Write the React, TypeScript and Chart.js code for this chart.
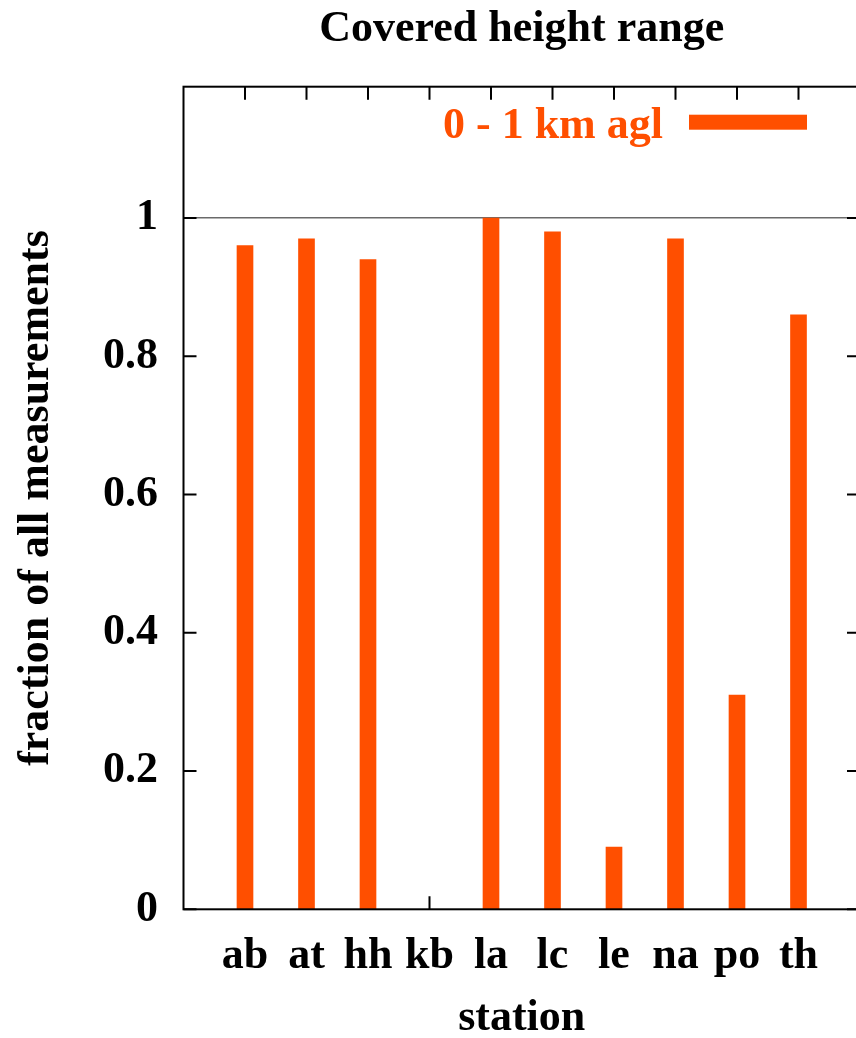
import React, { useEffect, useRef } from 'react';
import { Chart, registerables } from 'chart.js';

Chart.register(...registerables);

const stations = ['ab', 'at', 'hh', 'kb', 'la', 'lc', 'le', 'na', 'po', 'th'];
const fraction0to1km = [0.96, 0.97, 0.94, 0, 1.0, 0.98, 0.09, 0.97, 0.31, 0.86];
const yTickValues = [0, 0.2, 0.4, 0.6, 0.8, 1];
const seriesLabel = '0 - 1 km agl';
const chartTitle = 'Covered height range';
const xAxisTitle = 'station';
const yAxisTitle = 'fraction of all measurements';

const FONT = "'Liberation Serif', 'Times New Roman', serif";
const ORANGE = '#ff4f00';
const CANVAS_W = 870;
const CANVAS_H = 1050;

const framePlugin = {
  id: 'gnuFrame',
  beforeDatasetsDraw(chart: any) {
    const { ctx, chartArea: a, scales } = chart;
    const xs = scales.x;
    const ys = scales.y;
    const tl = 13;
    ctx.save();
    ctx.strokeStyle = '#000';
    ctx.lineWidth = 2;
    ctx.beginPath();
    for (let i = 0; i < stations.length; i++) {
      const px = xs.getPixelForValue(i);
      ctx.moveTo(px, a.bottom);
      ctx.lineTo(px, a.bottom - tl);
      ctx.moveTo(px, a.top);
      ctx.lineTo(px, a.top + tl);
    }
    for (const v of yTickValues) {
      const py = ys.getPixelForValue(v);
      ctx.moveTo(a.left, py);
      ctx.lineTo(a.left + tl, py);
      ctx.moveTo(a.right, py);
      ctx.lineTo(a.right - tl, py);
    }
    ctx.stroke();
    ctx.restore();
  },
  afterDatasetsDraw(chart: any) {
    const { ctx, chartArea: a } = chart;
    ctx.save();
    ctx.strokeStyle = '#000';
    ctx.lineWidth = 2;
    ctx.strokeRect(a.left, a.top, a.right - a.left, a.bottom - a.top);
    // legend (text left of sample line, gnuplot style)
    const ds = chart.data.datasets[0];
    const lineRight = a.right - 53;
    const lineLeft = lineRight - 118;
    ctx.fillStyle = ds.backgroundColor;
    ctx.fillRect(lineLeft, a.top + 28, lineRight - lineLeft, 15);
    ctx.font = `bold 44px ${FONT}`;
    ctx.textAlign = 'right';
    ctx.textBaseline = 'alphabetic';
    ctx.fillText(ds.label, lineLeft - 26, a.top + 51);
    ctx.restore();
  },
};

const boldFont = { family: FONT, size: 44, weight: 'bold' };

export default function App() {
  const ref = useRef<HTMLCanvasElement | null>(null);

  useEffect(() => {
    if (!ref.current) return;
    const chart = new Chart(ref.current, {
      type: 'bar',
      data: {
        datasets: [
          {
            label: seriesLabel,
            data: stations.map((_, i) => ({ x: i, y: fraction0to1km[i] })),
            backgroundColor: ORANGE,
            borderWidth: 0,
            barThickness: 16,
            xAxisID: 'x',
            yAxisID: 'y',
          },
        ],
      },
      plugins: [framePlugin],
      options: {
        responsive: false,
        animation: false,
        devicePixelRatio: 1,
        layout: { padding: { left: 0, right: CANVAS_W - 860, top: 0, bottom: 0 } },
        plugins: {
          legend: { display: false },
          tooltip: { enabled: false },
          title: { display: false },
        },
        scales: {
          x: {
            type: 'linear',
            position: 'bottom',
            offset: false,
            min: -1,
            max: 10,
            afterFit: (s: any) => {
              s.height = CANVAS_H - 909.3;
              s.paddingLeft = 0;
              s.paddingRight = 0;
            },
            grid: { display: false, drawTicks: false, offset: false },
            border: { display: false },
            ticks: {
              stepSize: 1,
              autoSkip: false,
              maxRotation: 0,
              includeBounds: false,
              padding: 20.5,
              color: '#000',
              font: boldFont,
              callback: (value: any) => {
                const v = Number(value);
                const i = Math.round(v);
                return Math.abs(v - i) < 1e-6 && i >= 0 && i < stations.length ? stations[i] : '';
              },
            },
            title: {
              display: true,
              text: xAxisTitle,
              color: '#000',
              font: boldFont,
              padding: { top: 0, bottom: 4.6 },
            },
          },
          // top axis only carries the chart title, centred over the plot area
          xTop: {
            type: 'linear',
            position: 'top',
            offset: false,
            min: -1,
            max: 10,
            afterFit: (s: any) => {
              s.height = 86.7;
              s.paddingLeft = 0;
              s.paddingRight = 0;
            },
            grid: { display: false, drawTicks: false },
            border: { display: false },
            ticks: { display: false },
            title: {
              display: true,
              text: chartTitle,
              color: '#000',
              font: boldFont,
              padding: { top: 3.6, bottom: 0 },
            },
          },
          y: {
            type: 'linear',
            min: 0,
            max: 1.19,
            afterFit: (s: any) => {
              s.width = 183.5;
              s.paddingTop = 0;
              s.paddingBottom = 0;
            },
            grid: {
              drawTicks: false,
              lineWidth: 1.5,
              color: (c: any) =>
                c.tick && Math.abs(c.tick.value - 1) < 1e-9 ? '#6a6a6a' : 'rgba(0,0,0,0)',
            },
            border: { display: false },
            ticks: {
              stepSize: 0.2,
              includeBounds: false,
              padding: 25.5,
              color: '#000',
              font: boldFont,
              callback: (value: any) => String(Number(Number(value).toFixed(2))),
            },
            title: {
              display: true,
              text: yAxisTitle,
              color: '#000',
              font: boldFont,
              padding: { top: 10.6, bottom: 0 },
            },
          },
        },
      },
    } as any);
    return () => chart.destroy();
  }, []);

  return (
    <div
      style={{
        position: 'fixed',
        left: 0,
        top: 0,
        width: 856,
        height: 1038,
        overflow: 'hidden',
        background: '#fff',
      }}
    >
      <canvas ref={ref} width={CANVAS_W} height={CANVAS_H} style={{ display: 'block', width: CANVAS_W, height: CANVAS_H }} />
    </div>
  );
}
